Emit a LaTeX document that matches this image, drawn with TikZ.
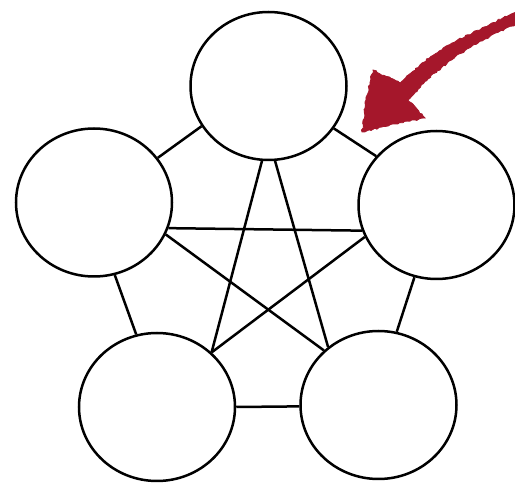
\documentclass[tikz,border=0pt]{standalone}
\usetikzlibrary{shapes.geometric,decorations.pathmorphing}
\definecolor{crayon}{HTML}{A5172B}
\begin{document}
\begin{tikzpicture}[x=1pt,y=-1pt,
  vert/.style={ellipse,draw=black,line width=2.5pt,fill=white,inner sep=0pt,minimum width=156pt,minimum height=148pt},
  edge/.style={line width=2.5pt,black},
  rough/.style={fill=crayon,draw=crayon,line width=0.8pt,decorate,decoration={random steps,segment length=2.5pt,amplitude=0.9pt}}]
\useasboundingbox (0,0) rectangle (515,486);
\node[vert] (top) at (268.5,86) {};
\node[vert] (left) at (94,202.5) {};
\node[vert] (right) at (436.5,205) {};
\node[vert] (bl) at (157,407) {};
\node[vert] (br) at (378.5,405) {};
% pentagon
\draw[edge] (top.211.5) -- (left.35.2);
\draw[edge] (top.327.7) -- (right.141.1);
\draw[edge] (left.286.7) -- (bl.106.8);
\draw[edge] (right.253.6) -- (br.76);
\draw[edge] (bl.0) -- (br.181.4);
% star
\draw[edge] (top.265.8) -- (bl.45.5);
\draw[edge] (top.275) -- (br.131.6);
\draw[edge] (left.341.2) -- (right.199.9);
\draw[edge] (left.336.7) -- (br.135.8);
\draw[edge] (right.204.8) -- (bl.45);
% red arrow
\path[rough] (516,12) -- (484,27) -- (452,43) -- (422,63) -- (400,83)
  -- (373,70) -- (366,100) -- (362,132) -- (395,124) -- (425,118)
  -- (408,100) -- (428,79) -- (456,56) -- (485,39) -- (516,24) -- cycle;
\end{tikzpicture}
\end{document}
